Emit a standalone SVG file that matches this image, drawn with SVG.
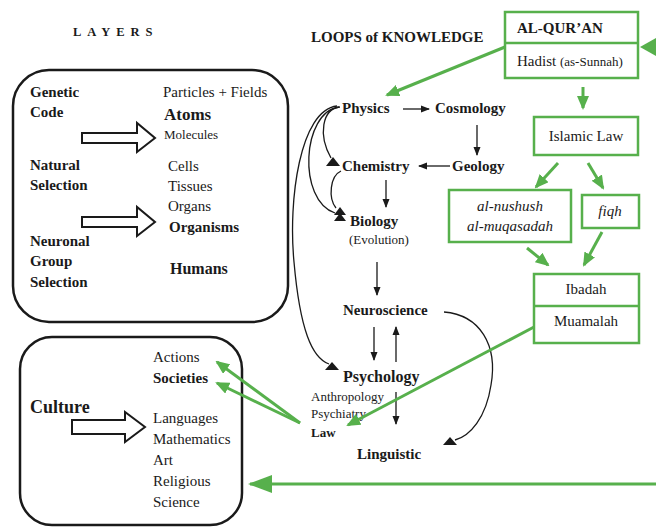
<svg xmlns="http://www.w3.org/2000/svg" width="656" height="528" viewBox="0 0 656 528">
<style>
text{font-family:"Liberation Serif","Times New Roman",serif;fill:#1a1a1a;font-size:15px}
.b{font-weight:bold}
.s13{font-size:13px}
.it{font-style:italic}
.mid{text-anchor:middle}
.bk{stroke:#1a1a1a;stroke-width:1.3;fill:none}
.gr{stroke:#57b04c;stroke-width:3;fill:none}
.gbox{stroke:#57b04c;stroke-width:2.5;fill:#fff}
.hol{stroke:#1a1a1a;stroke-width:2;fill:#fff;stroke-linejoin:miter}
.tri{fill:#1a1a1a}
</style>
<defs>
<marker id="ab" markerUnits="userSpaceOnUse" markerWidth="9" markerHeight="8" refX="8" refY="4" orient="auto"><path d="M0,0.5 L9,4 L0,7.5 z" fill="#1a1a1a"/></marker>
<marker id="ag" markerUnits="userSpaceOnUse" markerWidth="14" markerHeight="12" refX="12" refY="6" orient="auto"><path d="M0,0 L14,6 L0,12 z" fill="#57b04c"/></marker>
<marker id="agb" markerUnits="userSpaceOnUse" markerWidth="24" markerHeight="20" refX="22" refY="10" orient="auto"><path d="M0,1 L24,10 L0,19 z" fill="#57b04c"/></marker>
</defs>
<rect width="656" height="528" fill="#fff"/>

<g id="titles">
<text x="73" y="36" class="b" style="font-size:12.5px;letter-spacing:6px">LAYERS</text>
<text x="311" y="42" class="b" style="font-size:15px">LOOPS of KNOWLEDGE</text>
</g>

<g id="layers-box">
<rect x="13" y="70" width="275" height="252" rx="36" fill="none" stroke="#1a1a1a" stroke-width="2.5"/>
<text x="30" y="97" class="b">Genetic</text>
<text x="30" y="117" class="b">Code</text>
<text x="30" y="170" class="b">Natural</text>
<text x="30" y="190" class="b">Selection</text>
<text x="30" y="246" class="b">Neuronal</text>
<text x="30" y="266" class="b">Group</text>
<text x="30" y="287" class="b">Selection</text>
<text x="163" y="97">Particles + Fields</text>
<text x="164" y="120" class="b" style="font-size:17px">Atoms</text>
<text x="164" y="139" class="s13">Molecules</text>
<text x="168" y="171">Cells</text>
<text x="168" y="191">Tissues</text>
<text x="168" y="211">Organs</text>
<text x="169" y="232" class="b">Organisms</text>
<text x="170" y="274" class="b" style="font-size:16px">Humans</text>
<polygon class="hol" points="82,133 137,133 137,123 155,138 137,152 137,143 82,143"/>
<polygon class="hol" points="82,217 137,217 137,207 155,222 137,236 137,227 82,227"/>
</g>

<g id="culture-box">
<rect x="20" y="337" width="222" height="188" rx="32" fill="none" stroke="#1a1a1a" stroke-width="2.5"/>
<text x="30" y="413" class="b" style="font-size:18px">Culture</text>
<polygon class="hol" points="72,420 125,420 125,412 145,427 125,442 125,434 72,434"/>
<text x="153" y="362">Actions</text>
<text x="153" y="383" class="b">Societies</text>
<text x="153" y="423">Languages</text>
<text x="153" y="444">Mathematics</text>
<text x="153" y="465">Art</text>
<text x="153" y="486">Religious</text>
<text x="153" y="507">Science</text>
</g>

<g id="physics"><text x="342" y="113" class="b">Physics</text></g>
<g id="cosmology"><text x="435" y="113" class="b">Cosmology</text></g>
<g id="geology"><text x="452" y="171" class="b">Geology</text></g>
<g id="chemistry"><text x="342" y="171" class="b">Chemistry</text></g>
<g id="biology"><text x="350" y="226" class="b">Biology</text><text x="349" y="244" class="s13">(Evolution)</text></g>
<g id="neuroscience"><text x="343" y="315" class="b">Neuroscience</text></g>
<g id="psychology"><text x="343" y="382" class="b" style="font-size:16px">Psychology</text>
<text x="311" y="401" class="s13">Anthropology</text>
<text x="311" y="418" class="s13">Psychiatry</text>
<text x="311" y="437" class="b s13">Law</text></g>
<g id="linguistic"><text x="357" y="459" class="b">Linguistic</text></g>

<g id="al-quran">
<rect x="505" y="12" width="133" height="66" class="gbox"/>
<line x1="505" y1="43" x2="638" y2="43" stroke="#57b04c" stroke-width="2.5"/>
<text x="517" y="33" class="b">AL-QUR’AN</text>
<text x="517" y="66">Hadist <tspan class="s13">(as-Sunnah)</tspan></text>
</g>
<g id="islamic-law">
<rect x="534" y="117" width="104" height="38" class="gbox"/>
<text x="586" y="141" class="mid">Islamic Law</text>
</g>
<g id="nushush">
<rect x="449" y="190" width="122" height="52" class="gbox"/>
<text x="510" y="211" class="mid it">al-nushush</text>
<text x="510" y="231" class="mid it">al-muqasadah</text>
</g>
<g id="fiqh">
<rect x="582" y="195" width="57" height="33" class="gbox"/>
<text x="610" y="216" class="mid it">fiqh</text>
</g>
<g id="ibadah-muamalah">
<rect x="534" y="274" width="105" height="69" class="gbox"/>
<line x1="534" y1="306" x2="639" y2="306" stroke="#57b04c" stroke-width="2.5"/>
<text x="586" y="294" class="mid">Ibadah</text>
<text x="586" y="326" class="mid">Muamalah</text>
</g>

<g id="connectors">
<line class="bk" x1="403" y1="109" x2="429" y2="109" marker-end="url(#ab)"/>
<line class="bk" x1="477" y1="125" x2="477" y2="155" marker-end="url(#ab)"/>
<line class="bk" x1="450" y1="166" x2="419" y2="166" marker-end="url(#ab)"/>
<line class="bk" x1="386" y1="180" x2="386" y2="207" marker-end="url(#ab)"/>
<line class="bk" x1="377" y1="262" x2="377" y2="295" marker-end="url(#ab)"/>
<line class="bk" x1="374" y1="327" x2="374" y2="360" marker-end="url(#ab)"/>
<line class="bk" x1="396" y1="362" x2="396" y2="327" marker-end="url(#ab)"/>
<line class="bk" x1="396" y1="392" x2="396" y2="424" marker-end="url(#ab)"/>

<path class="bk" d="M340,107 C322,109 318,135 331,158"/>
<path class="bk" d="M339,107 C302,112 297,200 335,213"/>
<path class="bk" d="M341,171 C330,176 328,198 336,208"/>
<path class="bk" d="M337,106 C300,110 288,200 294,262 C300,330 312,358 329,364"/>
<path class="bk" d="M444,312 C480,315 498,345 491,385 C486,418 470,436 455,440"/>
<polygon class="tri" points="333,157 340,166 326,166"/>
<polygon class="tri" points="340,207 346,215 334,215"/>
<polygon class="tri" points="340,213 346,221 334,221"/>
<polygon class="tri" points="332,362 339,370 325,370"/>
<polygon class="tri" points="450,437 457,445 443,445"/>

<line class="gr" x1="505" y1="47" x2="387" y2="95" marker-end="url(#ag)"/>
<line class="gr" x1="583" y1="87" x2="583" y2="108" marker-end="url(#ag)"/>
<line class="gr" x1="558" y1="163" x2="536" y2="187" marker-end="url(#ag)"/>
<line class="gr" x1="588" y1="163" x2="603" y2="188" marker-end="url(#ag)"/>
<line class="gr" x1="527" y1="248" x2="548" y2="265" marker-end="url(#ag)"/>
<line class="gr" x1="602" y1="232" x2="584" y2="265" marker-end="url(#ag)"/>
<line class="gr" x1="534" y1="327" x2="348" y2="425" marker-end="url(#ag)"/>
<line class="gr" x1="300" y1="423" x2="217" y2="362" marker-end="url(#ag)"/>
<line class="gr" x1="300" y1="423" x2="217" y2="383" marker-end="url(#ag)"/>
<line class="gr" x1="656" y1="484" x2="250" y2="484" stroke-width="4.5" marker-end="url(#agb)"/>
<polygon points="640,47 656,38 656,56" fill="#57b04c"/>
</g>
</svg>
